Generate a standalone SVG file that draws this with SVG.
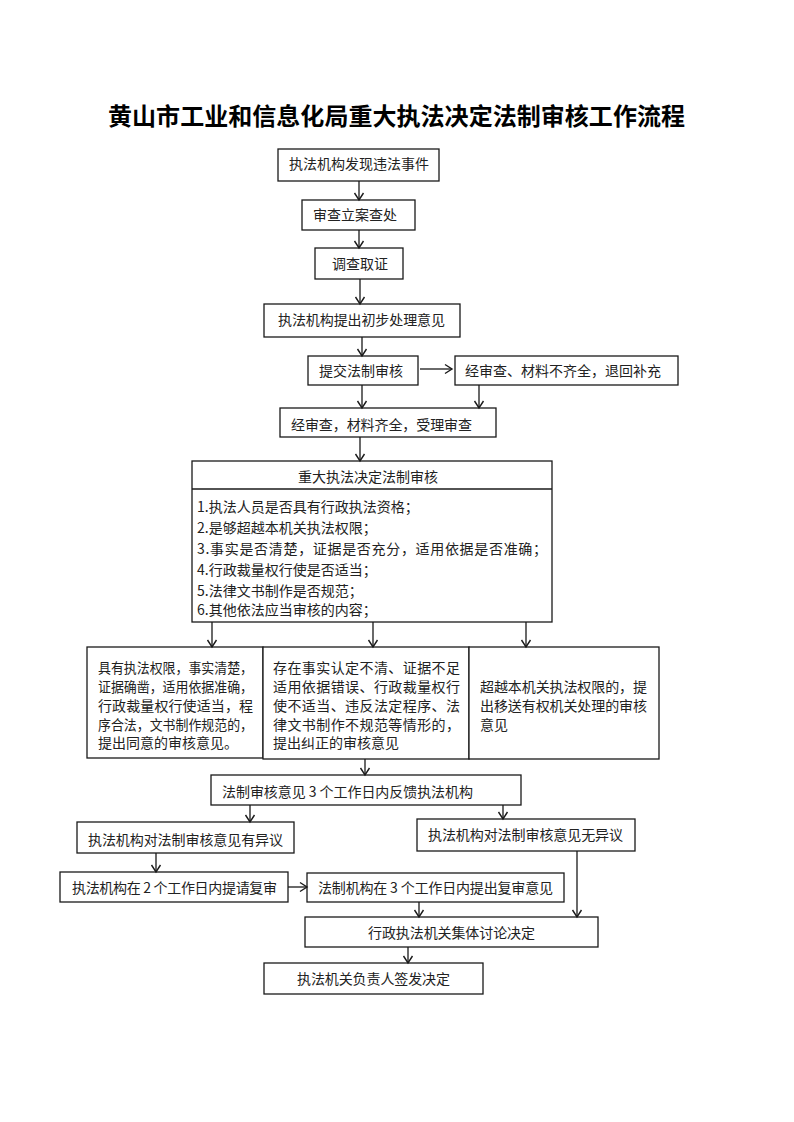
<svg xmlns="http://www.w3.org/2000/svg" width="794" height="1122" viewBox="0 0 794 1122">
<defs>
<style>
.b{fill:#fff;stroke:#1a1a1a;stroke-width:1.3}
.t{font-family:"Noto Sans CJK SC","Liberation Sans",sans-serif;font-size:14px;fill:#222}
.ttl{font-family:"Noto Sans CJK SC","Liberation Sans",sans-serif;font-size:24px;font-weight:bold;fill:#000}
.c{fill:none;stroke:#1a1a1a;stroke-width:1.3;marker-end:url(#ah)}
</style>
<marker id="ah" markerUnits="userSpaceOnUse" markerWidth="12" markerHeight="12" viewBox="0 0 12 12" refX="10" refY="6" orient="auto">
<path d="M3,1.5 L10,6 L3,10.5" fill="none" stroke="#1a1a1a" stroke-width="1.4"/>
</marker>
</defs>
<rect width="794" height="1122" fill="#fff"/>
<text class="ttl" x="108" y="125" textLength="577" lengthAdjust="spacing">黄山市工业和信息化局重大执法决定法制审核工作流程</text>

<g id="n1"><rect class="b" x="278" y="149" width="161" height="32"/><text class="t" x="289" y="169">执法机构发现违法事件</text></g>
<g id="n2"><rect class="b" x="302" y="200" width="113" height="30"/><text class="t" x="313" y="220">审查立案查处</text></g>
<g id="n3"><rect class="b" x="315" y="248" width="88" height="31"/><text class="t" x="332" y="269">调查取证</text></g>
<g id="n4"><rect class="b" x="264" y="304" width="196" height="33"/><text class="t" x="278" y="325" textLength="167" lengthAdjust="spacing">执法机构提出初步处理意见</text></g>
<g id="n5"><rect class="b" x="308" y="356" width="110" height="29"/><text class="t" x="319" y="376">提交法制审核</text></g>
<g id="n6"><rect class="b" x="455" y="356" width="223" height="29"/><text class="t" x="465" y="376" textLength="196" lengthAdjust="spacing">经审查、材料不齐全，退回补充</text></g>
<g id="n7"><rect class="b" x="280" y="408" width="216" height="29"/><text class="t" x="291" y="430" textLength="181" lengthAdjust="spacing">经审查，材料齐全，受理审查</text></g>

<g id="n8">
<rect class="b" x="192" y="461" width="360" height="161"/>
<line x1="192" y1="489" x2="552" y2="489" stroke="#1a1a1a" stroke-width="1.3"/>
<text class="t" x="298" y="482">重大执法决定法制审核</text>
<text class="t" x="197" y="512">1.执法人员是否具有行政执法资格；</text>
<text class="t" x="197" y="533">2.是够超越本机关执法权限；</text>
<text class="t" x="197" y="554" textLength="350" lengthAdjust="spacing">3.事实是否清楚，证据是否充分，适用依据是否准确；</text>
<text class="t" x="197" y="575">4.行政裁量权行使是否适当；</text>
<text class="t" x="197" y="596">5.法律文书制作是否规范；</text>
<text class="t" x="197" y="615">6.其他依法应当审核的内容；</text>
</g>

<g id="n9">
<rect class="b" x="87" y="647" width="176" height="111"/>
<text class="t" x="98" y="673" textLength="155" lengthAdjust="spacingAndGlyphs">具有执法权限，事实清楚，</text>
<text class="t" x="98" y="692" textLength="155" lengthAdjust="spacingAndGlyphs">证据确凿，适用依据准确，</text>
<text class="t" x="98" y="711" textLength="155" lengthAdjust="spacing">行政裁量权行使适当，程</text>
<text class="t" x="98" y="730" textLength="155" lengthAdjust="spacingAndGlyphs">序合法，文书制作规范的，</text>
<text class="t" x="98" y="748">提出同意的审核意见。</text>
</g>
<g id="n10">
<rect class="b" x="263" y="647" width="206" height="112"/>
<text class="t" x="273" y="673" textLength="187" lengthAdjust="spacing">存在事实认定不清、证据不足</text>
<text class="t" x="273" y="692" textLength="187" lengthAdjust="spacing">适用依据错误、行政裁量权行</text>
<text class="t" x="273" y="711" textLength="187" lengthAdjust="spacing">使不适当、违反法定程序、法</text>
<text class="t" x="273" y="730" textLength="187" lengthAdjust="spacing">律文书制作不规范等情形的，</text>
<text class="t" x="273" y="748">提出纠正的审核意见</text>
</g>
<g id="n11">
<rect class="b" x="469" y="647" width="190" height="112"/>
<text class="t" x="480" y="692" textLength="167" lengthAdjust="spacing">超越本机关执法权限的，提</text>
<text class="t" x="480" y="711" textLength="167" lengthAdjust="spacing">出移送有权机关处理的审核</text>
<text class="t" x="480" y="730">意见</text>
</g>

<g id="n12"><rect class="b" x="211" y="775" width="310" height="30"/><text class="t" x="222" y="797" textLength="251" lengthAdjust="spacing">法制审核意见 3 个工作日内反馈执法机构</text></g>
<g id="n13"><rect class="b" x="77" y="822" width="217" height="31"/><text class="t" x="88" y="845" textLength="195" lengthAdjust="spacing">执法机构对法制审核意见有异议</text></g>
<g id="n14"><rect class="b" x="417" y="819" width="218" height="32"/><text class="t" x="428" y="840" textLength="195" lengthAdjust="spacing">执法机构对法制审核意见无异议</text></g>
<g id="n15"><rect class="b" x="60" y="872" width="228" height="30"/><text class="t" x="72" y="893" textLength="205" lengthAdjust="spacing">执法机构在 2 个工作日内提请复审</text></g>
<g id="n16"><rect class="b" x="307" y="873" width="257" height="29"/><text class="t" x="318" y="893" textLength="235" lengthAdjust="spacing">法制机构在 3 个工作日内提出复审意见</text></g>
<g id="n17"><rect class="b" x="305" y="917" width="293" height="30"/><text class="t" x="368" y="938" textLength="167" lengthAdjust="spacing">行政执法机关集体讨论决定</text></g>
<g id="n18"><rect class="b" x="264" y="963" width="219" height="31"/><text class="t" x="297" y="984" textLength="153" lengthAdjust="spacing">执法机关负责人签发决定</text></g>

<g id="connectors">
<line class="c" x1="359" y1="181" x2="359" y2="200"/>
<line class="c" x1="359" y1="230" x2="359" y2="248"/>
<line class="c" x1="360" y1="279" x2="360" y2="304"/>
<line class="c" x1="362" y1="337" x2="362" y2="356"/>
<line class="c" x1="420" y1="369" x2="452" y2="369"/>
<line class="c" x1="362" y1="385" x2="362" y2="408"/>
<line class="c" x1="479" y1="385" x2="479" y2="408"/>
<line class="c" x1="360" y1="437" x2="360" y2="461"/>
<line class="c" x1="212" y1="622" x2="212" y2="647"/>
<line class="c" x1="373" y1="622" x2="373" y2="647"/>
<line class="c" x1="526" y1="622" x2="526" y2="647"/>
<line class="c" x1="365" y1="759" x2="365" y2="775"/>
<line class="c" x1="250" y1="805" x2="250" y2="822"/>
<line class="c" x1="503" y1="805" x2="503" y2="819"/>
<line class="c" x1="156" y1="853" x2="156" y2="872"/>
<line class="c" x1="288" y1="887" x2="307" y2="887"/>
<line class="c" x1="419" y1="902" x2="419" y2="917"/>
<line class="c" x1="577" y1="851" x2="577" y2="917"/>
<line class="c" x1="408" y1="947" x2="408" y2="963"/>
</g>
</svg>
